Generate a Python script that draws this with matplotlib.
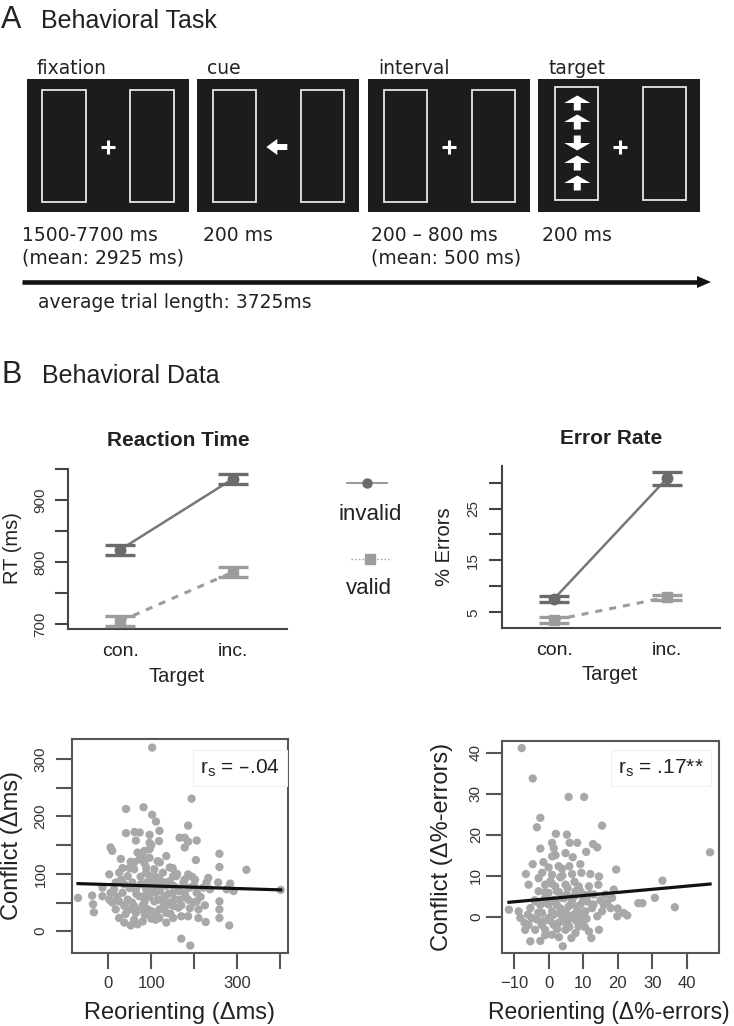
import numpy as np
import matplotlib
matplotlib.use("Agg")
import matplotlib.pyplot as plt
from matplotlib.patches import Rectangle, Polygon

# ---- panel A texts ----
screen_names = ["fixation", "cue", "interval", "target"]
durations = ["1500-7700 ms", "200 ms", "200 \u2013 800 ms", "200 ms"]
duration_means = ["(mean: 2925 ms)", "", "(mean: 500 ms)", ""]
trial_text = "average trial length: 3725ms"
target_arrows = ["up", "up", "down", "up", "up"]

# ---- panel B line plots ----
conditions = ["con.", "inc."]
rt_invalid = [820, 934]
rt_invalid_se = [8, 8]
rt_valid = [705, 784]
rt_valid_se = [8, 8]
err_invalid = [7.6, 30.8]
err_invalid_se = [0.6, 1.3]
err_valid = [3.5, 7.9]
err_valid_se = [0.5, 0.5]

# ---- panel B scatter: reorienting vs conflict (ms) ----
reorient_ms = [102, 194, 41, 82, 102, 111, 186, 41, 61, 73, 96, 119, 166, 178, 186, 206,
               64, 118, 96, 5, 9, 68, 84, 96, 178, 29, 52, 72, 84, 96, 115, 135,
               204, 259, 259, 322, 2, 25, 45, 60, 88, 107, 127, 143, 158, 178, 202, 233,
               256, 284, 292, 402, -71, -38, -36, -34, -14, 5, 9, 17, 33, 45, 60, 72,
               84, 96, 107, 119, 131, 143, 151, 163, 178, 186, 206, 206, 210, 229, 259, 259,
               259, 25, 37, 52, 68, 80, 100, 119, 135, 151, 170, 186, 210, 227, 282, 170,
               191, 17, 37, 56, 76, 103, 123, 143, 88, 111, 64, 25, 49, 92, 111, 135,
               151, 166, 64, 2, 221, 237, 276, 88, 119, 135, 151, 49, 33, 186, 158, 190,
               -14, 96, 107, 76, 37, 127, 84, 198, 13,
               20, 30, 50, 55, 65, 75, 80, 90, 95, 100, 105, 110, 115, 120, 125, 130,
               140, 145, 150, 155, 160, 165, 170, 175, 180, 190, 195, 200, 215, 225, 40, 60,
               85, 110, 135, 150, 120, 80, 60, 100]
conflict_ms = [320, 231, 213, 216, 203, 191, 184, 171, 173, 172, 168, 175, 163, 163, 156, 158,
               158, 157, 154, 146, 140, 137, 140, 143, 146, 126, 121, 125, 119, 128, 122, 131,
               124, 135, 112, 107, 99, 102, 96, 108, 102, 108, 102, 111, 96, 90, 90, 93,
               85, 83, 70, 72, 58, 62, 47, 33, 76, 67, 50, 38, 67, 55, 44, 61,
               50, 67, 52, 38, 61, 50, 67, 41, 67, 55, 67, 52, 38, 85, 52, 38,
               23, 23, 15, 10, 12, 17, 22, 23, 15, 23, 26, 26, 23, 16, 10, -13,
               -25, 85, 82, 85, 82, 87, 82, 87, 73, 67, 73, 52, 38, 38, 32, 32,
               44, 55, 32, 55, 76, 73, 73, 111, 90, 79, 96, 110, 110, 99, 76, 76,
               61, 96, 79, 38, 44, 52, 61, 50, 73,
               60, 90, 75, 50, 65, 95, 45, 85, 60, 35, 75, 95, 55, 70, 40, 85,
               65, 30, 80, 55, 100, 70, 45, 85, 60, 40, 95, 80, 60, 45, 30, 20,
               28, 20, 45, 110, 120, 130, 120, 150]
fit_ms = (81.3, -0.0231)  # intercept, slope of drawn line

# ---- panel B scatter: reorienting vs conflict (% errors) ----
reorient_err = [-7.8, -4.6, 5.8, 10.3, -2.4, -3.4, 15.5, 2.1, 5.3, 1.0, 6.1, 8.3, 1.5, 12.9, 14.1, -2.4,
                10.9, 4.9, 7.0, 1.0, -4.6, -1.5, 2.9, 3.9, 6.0, 9.2, -6.6, -1.9, 1.0, 3.4, 6.8, 9.5,
                12.1, 14.6, 19.6, 33.0, 46.8, -5.8, -2.9, -1.0, 1.9, 4.9, 8.7, 11.7, 14.4, -2.9,
                0.0, 2.4, 5.3, 7.8, 10.2, 13.1, 16.5, 18.9, 26.0, 27.2, 30.8, 36.6, -11.5, -8.7,
                -8.2, -5.3, -4.9, -2.4, -1.9, -0.5, 1.0, 2.4, 3.9, 5.8, 7.3, 9.2, 10.7, 12.6, 14.1,
                16.0, 18.0, 19.9, 21.8, 22.8, -6.8, -3.9, -1.0, 1.5, 4.9, 8.7, 11.7, 14.6, -5.3,
                -2.4, 6.6, 12.4, 4.1, -1.0, 1.5, 3.9, 6.8, -1.5, 2.9, 5.8, 9.7, -3.4, 0.0, 1.0,
                7.8, 5.3, 11.2, 18.4, 15.5, -3.9, -5.8, 3.4, 8.3, 0.5,
                -4, -3, -2, -1, 0, 0.5, 1, 1.5, 2, 2.5, 3, 3.5, 4, 4.5, 5, 5.5,
                6, 6.5, 7, 7.5, 8, 8.5, 9, 9.5, 10, 11, 12, 13, -6, -7, 0, 2,
                4, -1, 3, 7.5, 10.5, 15, 17, 20]
conflict_err = [41.1, 33.7, 29.2, 29.2, 24.1, 21.8, 22.2, 20.2, 20.0, 18.0, 18.0, 18.0, 16.7, 17.7, 16.9, 16.6,
                15.8, 15.5, 14.5, 14.7, 12.8, 13.3, 12.3, 11.7, 12.3, 12.8, 10.4, 10.7, 10.2, 9.6, 10.4, 10.7,
                10.4, 9.8, 11.5, 8.8, 15.7, 7.8, 9.4, 7.8, 7.4, 7.8, 7.4, 7.4, 7.8, 6.2,
                5.8, 6.2, 5.4, 6.2, 5.4, 5.4, 5.4, 6.6, 3.3, 3.3, 4.6, 2.3, 1.7, 1.3,
                -0.3, 2.1, -0.3, 2.9, 0.9, 3.3, 1.3, 2.9, 0.1, 2.5, 0.5, 2.9, 1.3, 2.1, 0.1,
                2.9, 2.1, 0.1, 0.9, 0.3, -3.2, -3.2, -3.2, -2.0, -3.2, -2.4, -3.6, -3.2, -6.0,
                -5.9, -5.2, -5.2, -7.2, 4.6, 4.1, 4.6, 3.9, -1.1, -1.5, -0.7, -1.1, -0.7, -0.3, -4.4,
                -4.0, -2.0, 3.7, 4.6, 1.3, 3.7, -2.0, 1.3, 1.7, 8.6,
                4, 1, -2, 6, 3, -1, 8, 0.5, 3.5, -3, 6, 2, -1, 4.5, 1, 7,
                -2.5, 3, 0, 5, -1, 2.5, 6.5, 0.5, 4, -0.5, 5.5, 3, 0.5, -1.5, 12, 15,
                10, -4.5, -5, 8.5, -2.5, 4, 3.5, 2]
fit_err = (4.39, 0.0763)

W, H = 734, 1026
fig = plt.figure(figsize=(W / 100, H / 100), dpi=100)
plt.rcParams['font.family'] = ['Liberation Sans', 'DejaVu Sans']

ov = fig.add_axes([0, 0, 1, 1])
ov.set_xlim(0, W)
ov.set_ylim(H, 0)
ov.axis('off')


def ax_px(x0, y0, x1, y1):
    return fig.add_axes([x0 / W, 1 - y1 / H, (x1 - x0) / W, (y1 - y0) / H])


def label(x, y, s, **kw):
    kw.setdefault('ha', 'center')
    kw.setdefault('va', 'center')
    kw.setdefault('color', '#222222')
    ov.text(x, y, s, **kw)


# ================= Panel A =================
label(1, 20, "A", ha='left', fontsize=22)
label(41, 21, "Behavioral Task", ha='left', fontsize=18)

screen_left = [26.7, 197, 368, 538.3]
sw, top, bot = 162, 79, 212
for i, x in enumerate(screen_left):
    ov.add_patch(Rectangle((x, top), sw, bot - top, fc='#1c1c1c', ec='none'))
    if i < 3:
        ry, rh = 90, 112
        offs = [15.6, 103.5]
    else:
        ry, rh = 87.3, 112.7
        offs = [16.7, 104.7]
    for o in offs:
        ov.add_patch(Rectangle((x + o, ry), 43.4, rh, fc='none', ec='#e6e6e6', lw=1.3))
    cx = x + 81.3
    if i == 1:
        ov.add_patch(Polygon([(cx - 12, 147), (cx - 1, 139), (cx - 1, 144), (cx + 9, 144),
                              (cx + 9, 150), (cx - 1, 150), (cx - 1, 155)], closed=True,
                             fc='white', ec='none'))
    else:
        ov.plot([cx - 7, cx + 7], [147, 147], color='white', lw=2.2, solid_capstyle='butt')
        ov.plot([cx, cx], [140, 154], color='white', lw=2.2, solid_capstyle='butt')
    ov.text(x + 10, 74, screen_names[i], ha='left', va='baseline', fontsize=13.5,
            family='DejaVu Sans', color='#222222')

# flanker arrows in target screen
acx = 577.3
for d, cy in zip(target_arrows, [103, 122, 143, 163, 183]):
    s = -1 if d == "up" else 1
    pts = [(acx, cy + s * 7.5), (acx + 13, cy), (acx + 3.5, cy), (acx + 3.5, cy - s * 7.5),
           (acx - 3.5, cy - s * 7.5), (acx - 3.5, cy), (acx - 13, cy)]
    ov.add_patch(Polygon(pts, closed=True, fc='white', ec='none'))

dur_x = [21.7, 203.3, 371.3, 542.3]
for x, d1, d2 in zip(dur_x, durations, duration_means):
    ov.text(x, 241, d1, ha='left', va='baseline', fontsize=13.5, family='DejaVu Sans', color='#222222')
    ov.text(x, 263, d2, ha='left', va='baseline', fontsize=13.5, family='DejaVu Sans', color='#222222')

ov.plot([22, 698], [282, 282], color='#111111', lw=3.3, solid_capstyle='butt')
ov.add_patch(Polygon([(697, 276), (711, 282), (697, 288)], closed=True, fc='#111111', ec='none'))
ov.text(38.3, 308, trial_text, ha='left', va='baseline', fontsize=13.5, family='DejaVu Sans',
        color='#222222')

# ================= Panel B =================
label(1, 375, "B", ha='left', fontsize=22)
label(41.5, 376, "Behavioral Data", ha='left', fontsize=18)

c_inv, c_val = '#6b6b6b', '#9c9c9c'
xpos = np.array([1, 2])


def style_line_axes(ax, ticks, labels):
    for s in ['top', 'right']:
        ax.spines[s].set_visible(False)
    for s in ['left', 'bottom']:
        ax.spines[s].set_color('#444444')
        ax.spines[s].set_linewidth(1.5)
    ax.set_xticks(xpos)
    ax.set_xticklabels(conditions)
    ax.tick_params(axis='x', length=0, pad=10, labelsize=14, labelcolor='#222222')
    ax.set_yticks(ticks)
    ax.set_yticklabels(labels)
    ax.tick_params(axis='y', length=9.4, width=1.5, pad=6, labelsize=11, color='#444444',
                   labelcolor='#333333', labelrotation=90)
    for lab in ax.get_yticklabels():
        lab.set_va('center')


def draw_lines(ax, inv, inv_se, val, val_se):
    ax.plot(xpos, inv, color='#777777', lw=1.8, zorder=2)
    ln, = ax.plot(xpos, val, color=c_val, lw=2.2, zorder=2)
    ln.set_dashes([2.3, 2.3])
    ax.errorbar(xpos, inv, yerr=inv_se, fmt='o', color=c_inv, ms=7.5, capsize=10.5,
                capthick=2.4, elinewidth=2, zorder=3)
    ax.errorbar(xpos, val, yerr=val_se, fmt='s', color=c_val, ms=7.5, capsize=10.5,
                capthick=2.4, elinewidth=2, zorder=3)


ax_rt = ax_px(68.3, 468.9, 287, 629.3)
draw_lines(ax_rt, rt_invalid, rt_invalid_se, rt_valid, rt_valid_se)
ax_rt.set_xlim(0.54, 2.48)
ax_rt.set_ylim(692, 950)
style_line_axes(ax_rt, [700, 750, 800, 850, 900, 950], ['700', '', '800', '', '900', ''])
label(178, 441, "Reaction Time", fontsize=15, fontweight='bold')
label(13, 548, "RT (ms)", rotation=90, fontsize=14.5)
label(177, 677, "Target", fontsize=14.5)

ax_er = ax_px(501.7, 466, 720, 628)
draw_lines(ax_er, err_invalid, err_invalid_se, err_valid, err_valid_se)
ax_er.set_xlim(0.536, 2.47)
ax_er.set_ylim(1.97, 33.2)
style_line_axes(ax_er, [5, 10, 15, 20, 25, 30], ['5', '', '15', '', '25', ''])
label(611, 438, "Error Rate", fontsize=15, fontweight='bold')
label(445, 547, "% Errors", rotation=90, fontsize=14.5)
label(610, 675, "Target", fontsize=14.5)

# legend between the panels
ov.plot([347, 387], [483, 483], color='#888888', lw=1.2)
ov.plot([367], [483], 'o', color=c_inv, ms=6.5)
label(370, 515, "invalid", fontsize=16)
ov.plot([351, 389], [559, 559], color='#999999', lw=1, ls=':')
ov.plot([370], [559], 's', color=c_val, ms=6.5)
label(369, 589, "valid", fontsize=16)


def style_scatter(ax, xt, xl, yt, yl):
    for s in ax.spines.values():
        s.set_color('#555555')
        s.set_linewidth(1.5)
    ax.set_xticks(xt)
    ax.set_xticklabels(xl)
    ax.set_yticks(yt)
    ax.set_yticklabels(yl)
    ax.tick_params(axis='both', length=11.5, width=1.5, color='#555555', labelcolor='#333333')
    ax.tick_params(axis='x', labelsize=12, pad=5)
    ax.tick_params(axis='y', labelsize=11, pad=6, labelrotation=90)
    for lab in ax.get_yticklabels():
        lab.set_va('center')


def draw_scatter(ax, x, y, fit):
    x = np.asarray(x)
    ax.scatter(x, y, s=36, color='#a8a8a8', edgecolors='none', zorder=2)
    xx = np.array([x.min(), x.max()])
    ax.plot(xx, fit[0] + fit[1] * xx, color='#111111', lw=2.3, zorder=3)


ax_s1 = ax_px(72, 739, 288, 953)
draw_scatter(ax_s1, reorient_ms, conflict_ms, fit_ms)
ax_s1.set_xlim(-85, 419)
ax_s1.set_ylim(-38, 335)
style_scatter(ax_s1, [0, 100, 200, 300, 400], ['0', '100', '', '300', ''],
              [0, 50, 100, 150, 200, 250, 300], ['0', '', '100', '', '200', '', '300'])
ax_s1.text(200, 768, "r$_\\mathregular{s}$ = \u2013.04",
           transform=ov.transData, ha='left', va='center', fontsize=15, color='#222222',
           bbox=dict(boxstyle='square,pad=0.35', fc='white', ec='#f0f0f0', lw=0.8), zorder=5)
label(12, 846, "Conflict (\u0394ms)", rotation=90, fontsize=17)
label(180, 1013, "Reorienting (\u0394ms)", fontsize=17)

ax_s2 = ax_px(501.7, 740.7, 719, 953)
draw_scatter(ax_s2, reorient_err, conflict_err, fit_err)
ax_s2.set_xlim(-13.6, 49.4)
ax_s2.set_ylim(-8.85, 42.9)
style_scatter(ax_s2, [-10, 0, 10, 20, 30, 40], ['\u221210', '0', '10', '20', '30', '40'],
              [0, 10, 20, 30, 40], ['0', '10', '20', '30', '40'])
ax_s2.tick_params(axis='y', pad=2)
ax_s2.text(618, 768, "r$_\\mathregular{s}$ = .17**", transform=ov.transData, ha='left',
           va='center', fontsize=15, color='#222222',
           bbox=dict(boxstyle='square,pad=0.35', fc='white', ec='#f0f0f0', lw=0.8), zorder=5)
label(442, 847, "Conflict (\u0394%-errors)", rotation=90, fontsize=17)
label(609, 1013, "Reorienting (\u0394%-errors)", fontsize=16.5)

fig.savefig("out.png", dpi=100)
